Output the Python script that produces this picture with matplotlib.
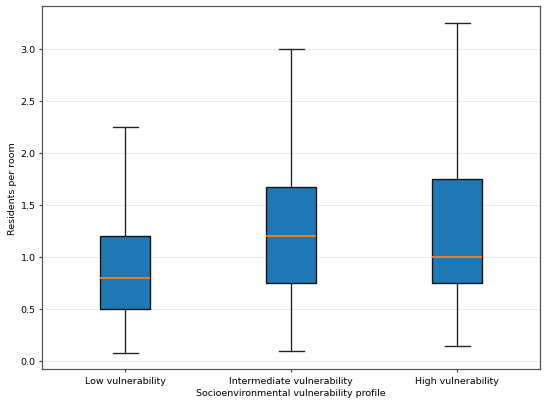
import matplotlib.pyplot as plt

# box statistics
profiles = ["Low vulnerability", "Intermediate vulnerability", "High vulnerability"]
whislo = [0.08, 0.09, 0.14]
q1 = [0.5, 0.75, 0.75]
med = [0.8, 1.2, 1.0]
q3 = [1.2, 1.667, 1.75]
whishi = [2.25, 3.0, 3.25]

stats = []
for i in range(len(profiles)):
    stats.append({"label": profiles[i], "whislo": whislo[i], "q1": q1[i],
                  "med": med[i], "q3": q3[i], "whishi": whishi[i], "fliers": []})

# 8in wide figure shrunk to 550 px
fig, ax = plt.subplots(figsize=(8, 5.905), dpi=68.75)
lw = 1.4
ax.bxp(stats, widths=0.3, patch_artist=True, showfliers=False,
       boxprops=dict(facecolor="#1f77b4", edgecolor="#111111", linewidth=lw),
       whiskerprops=dict(color="#222222", linewidth=lw),
       capprops=dict(color="#222222", linewidth=lw),
       medianprops=dict(color="#ff7f0e", linewidth=1.9))
ax.set_ylim(-0.077, 3.41)
ax.yaxis.grid(True, color="#ebebeb", linewidth=1.0)
ax.set_axisbelow(True)
for s in ax.spines.values():
    s.set_color("#555555")
    s.set_linewidth(1.3)
ax.tick_params(width=1.2, color="#444444")
ax.set_xlabel("Socioenvironmental vulnerability profile")
ax.set_ylabel("Residents per room")
fig.subplots_adjust(left=0.077, right=0.982, top=0.983, bottom=0.089)
plt.savefig("out.png")
